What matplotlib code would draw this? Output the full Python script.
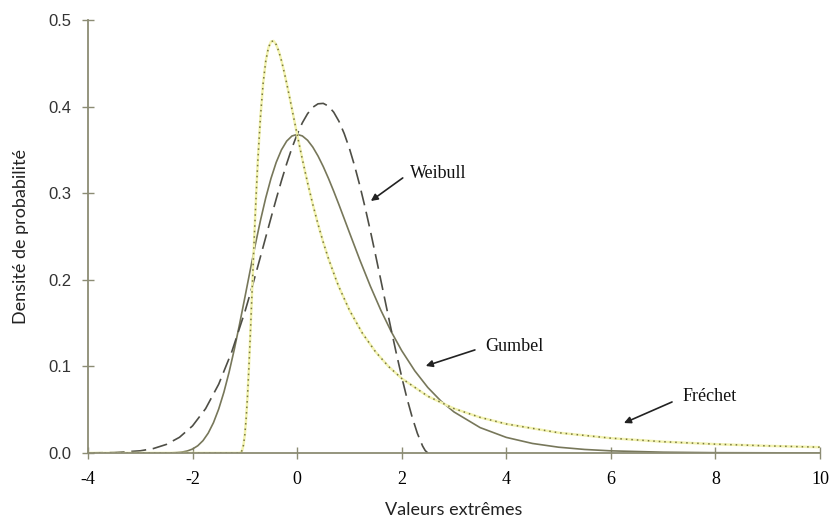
import matplotlib
matplotlib.use("Agg")
import matplotlib.pyplot as plt

# ---- data ----
gumbel_x = [-4, -3.5, -3, -2.75, -2.5, -2.4, -2.3, -2.2, -2.1, -2.0, -1.9, -1.8, -1.7, -1.6,
            -1.5, -1.4, -1.3, -1.2, -1.1, -1.0, -0.9, -0.8, -0.7, -0.6, -0.5, -0.4, -0.3,
            -0.2, -0.1, 0.0, 0.1, 0.2, 0.3, 0.4, 0.5, 0.6, 0.7, 0.8, 0.9, 1.0, 1.2, 1.4,
            1.6, 1.8, 2.0, 2.25, 2.5, 2.75, 3.0, 3.5, 4.0, 4.5, 5.0, 5.5, 6.0, 7.0, 8.0, 10.0]
gumbel_y = [0.0, 0.0, 0.0, 0.000003, 0.00006, 0.00018, 0.00047, 0.00109, 0.00232, 0.00457,
            0.00835, 0.01426, 0.02296, 0.03499, 0.0507, 0.07028, 0.09356, 0.1200, 0.1490,
            0.1794, 0.2102, 0.2404, 0.2688, 0.2946, 0.3170, 0.3356, 0.3500, 0.3601, 0.3660,
            0.3679, 0.3661, 0.3611, 0.3532, 0.3429, 0.3307, 0.3170, 0.3022, 0.2867, 0.2707,
            0.2546, 0.2228, 0.1927, 0.1650, 0.1401, 0.1182, 0.0949, 0.0756, 0.0600, 0.0474,
            0.0293, 0.0180, 0.0110, 0.00668, 0.00407, 0.00247, 0.00091, 0.00034, 0.00005]

weibull_x = [-4, -3.5, -3, -2.75, -2.5, -2.25, -2, -1.75, -1.5, -1.25, -1.0, -0.9, -0.8, -0.7,
             -0.6, -0.5, -0.4, -0.3, -0.2, -0.1, 0.0, 0.1, 0.2, 0.3, 0.4, 0.5, 0.6, 0.7, 0.8,
             0.9, 1.0, 1.1, 1.2, 1.3, 1.4, 1.5, 1.6, 1.7, 1.8, 1.9, 2.0, 2.1, 2.2, 2.3, 2.4,
             2.45, 2.5]
weibull_y = [0.00008, 0.0005, 0.0025, 0.0051, 0.0099, 0.0181, 0.0313, 0.0512, 0.0794, 0.1168,
             0.1629, 0.1835, 0.2049, 0.2269, 0.2492, 0.2714, 0.2933, 0.3143, 0.3340, 0.3520,
             0.3679, 0.3813, 0.3918, 0.3992, 0.4032, 0.4037, 0.4005, 0.3935, 0.3830, 0.3689,
             0.3517, 0.3314, 0.3086, 0.2835, 0.2567, 0.2286, 0.1998, 0.1708, 0.1421, 0.1143,
             0.0879, 0.0633, 0.0414, 0.0226, 0.0080, 0.0028, 0.0]

frechet_x = [-4, -1.2, -1.15, -1.1, -1.075, -1.05, -1.025, -1.0, -0.975, -0.95, -0.925, -0.9,
             -0.875, -0.85, -0.825, -0.8, -0.775, -0.75, -0.7, -0.65, -0.6, -0.55, -0.5,
             -0.45, -0.4, -0.35, -0.3, -0.25, -0.2, -0.15, -0.1, -0.05, 0.0, 0.1, 0.2, 0.3,
             0.4, 0.5, 0.6, 0.75, 0.8, 1.0, 1.25, 1.5, 1.75, 2.0, 2.5, 3.0, 3.5, 4.0, 5.0,
             6.0, 7.0, 8.0, 9.0, 10.0]
frechet_y = [0.0, 0.0, 0.0, 0.00008, 0.0007, 0.0032, 0.0094, 0.0212, 0.0396, 0.0644, 0.0948,
             0.1293, 0.1662, 0.2036, 0.2409, 0.2761, 0.3088, 0.3391, 0.3891, 0.4268, 0.4525,
             0.4678, 0.4750, 0.4758, 0.4716, 0.4637, 0.4531, 0.4406, 0.4270, 0.4125, 0.3976,
             0.3827, 0.3679, 0.3391, 0.3120, 0.2870, 0.2641, 0.2432, 0.2243, 0.1993, 0.1917,
             0.1650, 0.1381, 0.1168, 0.0998, 0.0861, 0.0655, 0.0513, 0.0411, 0.0335, 0.0234,
             0.0171, 0.0130, 0.0102, 0.0082, 0.0067]

x_ticks = [-4, -2, 0, 2, 4, 6, 8, 10]
x_ticklabels = ["-4", "-2", "0", "2", "4", "6", "8", "10"]
y_ticks = [0.0, 0.1, 0.2, 0.3, 0.4, 0.5]
y_ticklabels = ["0.0", "0.1", "0.2", "0.3", "0.4", "0.5"]

labels = ["Weibull", "Gumbel", "Fréchet"]
label_pos = [(2.16, 0.3227), (3.59, 0.1224), (7.38, 0.0658)]
arrow_start = [(2.02, 0.3176), (3.40, 0.119), (7.17, 0.0589)]
arrow_end = [(1.41, 0.291), (2.46, 0.1005), (6.25, 0.0346)]

# ---- figure ----
fig = plt.figure(figsize=(8.33, 5.19), dpi=100)
ax = fig.add_axes([0.1056, 0.1272, 0.8788, 0.8343])

axis_col = "#8c8c74"

ax.plot(gumbel_x, gumbel_y, color="#77775a", lw=1.2)
ax.plot(weibull_x, weibull_y, color="#4e4e46", lw=1.2, dashes=(9, 4))
ax.plot(frechet_x, frechet_y, color="#f3f3b0", lw=1.8)
ax.plot(frechet_x, frechet_y, color="#77773f", lw=1.1, dashes=(1, 2.6))

ax.set_xlim(-4, 10)
ax.set_ylim(0, 0.5)
for s in ["top", "right"]:
    ax.spines[s].set_visible(False)
for s in ["left", "bottom"]:
    ax.spines[s].set_color(axis_col)
    ax.spines[s].set_linewidth(1.3)

ax.set_xticks(x_ticks)
ax.set_xticklabels(x_ticklabels, fontfamily="Liberation Serif", fontsize=13)
ax.set_yticks(y_ticks)
ax.set_yticklabels(y_ticklabels, fontfamily="Liberation Sans", fontsize=12, color="#333333")
ax.tick_params(axis="both", direction="inout", length=8, width=1.0, color=axis_col)
ax.tick_params(axis="x", pad=9)
ax.tick_params(axis="y", pad=8)

ax.set_xlabel("Valeurs extrêmes", fontfamily="Lato", fontsize=13, color="#222222", labelpad=10)
ax.set_ylabel("Densité de probabilité", fontfamily="Lato", fontsize=13, color="#222222", labelpad=14)

for lab, pos, a0, a1 in zip(labels, label_pos, arrow_start, arrow_end):
    ax.text(pos[0], pos[1], lab, fontfamily="Liberation Serif", fontsize=13,
            ha="left", va="center", color="#111111")
    ax.annotate("", xy=a1, xytext=a0,
                arrowprops=dict(arrowstyle="-|>", color="#222222", lw=1.2,
                                mutation_scale=10, shrinkA=0, shrinkB=0))

fig.savefig("out.png", dpi=100)
